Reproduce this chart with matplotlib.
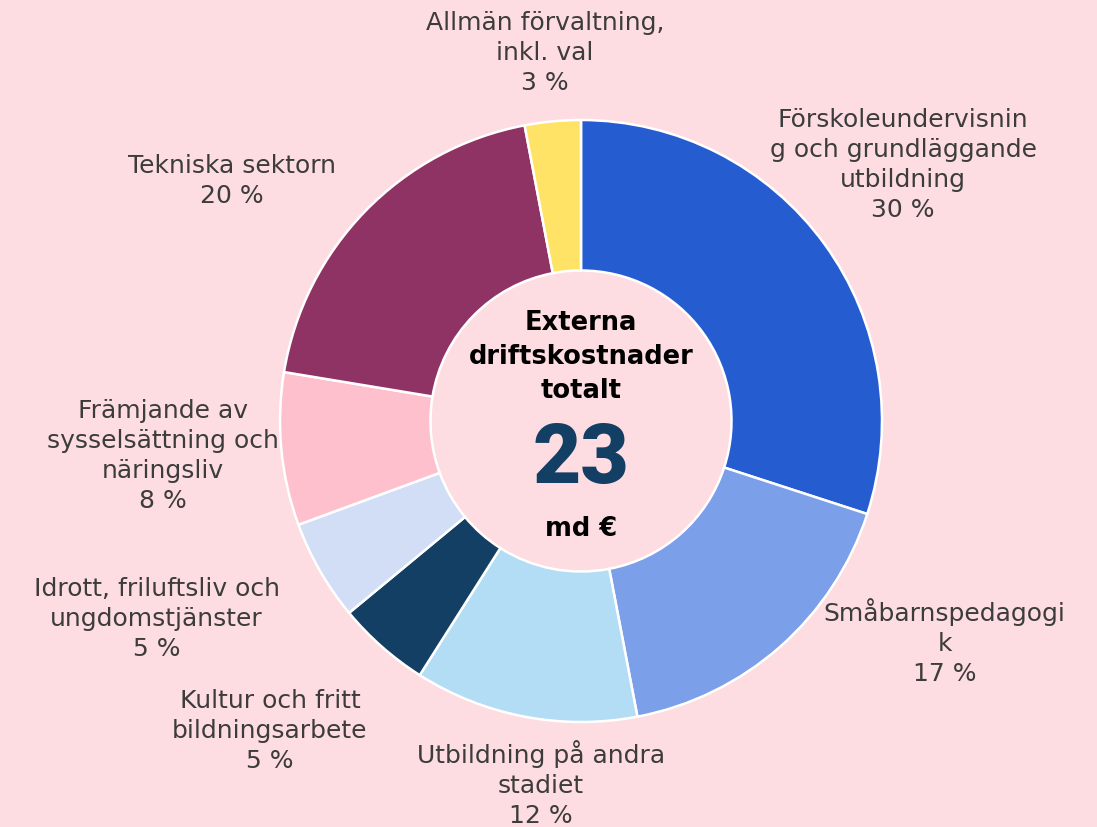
import numpy as np
import matplotlib.pyplot as plt

categories = [
    "Förskoleundervisnin\ng och grundläggande\nutbildning",
    "Småbarnspedagogi\nk",
    "Utbildning på andra\nstadiet",
    "Kultur och fritt\nbildningsarbete",
    "Idrott, friluftsliv och\nungdomstjänster",
    "Främjande av\nsysselsättning och\nnäringsliv",
    "Tekniska sektorn",
    "Allmän förvaltning,\ninkl. val",
]
values = [30.0, 17.0, 12.0, 5.0, 5.4, 8.2, 19.4, 3.0]
pct_labels = ["30 %", "17 %", "12 %", "5 %", "5 %", "8 %", "20 %", "3 %"]
total = "23"
unit = "md €"
center_title = "Externa\ndriftskostnader\ntotalt"

colors = ["#255dd1", "#7b9fe8", "#b2ddf5", "#123f63", "#d2ddf6",
          "#ffc0ce", "#8f3264", "#ffe366"]
bg = "#fddde1"

# label placement: distance from centre (in outer radii) and shift from wedge mid-angle
label_dist = [1.367, 1.414, 1.213, 1.459, 1.555, 1.394, 1.407, 1.229]
label_shift = [2.5, 17.3, 4.5, -3.7, -4.9, -0.6, 9.8, 0.2]

W, H = 1097, 827
cx, cy, R = 581, 421, 301

fig = plt.figure(figsize=(W / 100, H / 100), dpi=100, facecolor=bg)
ax = fig.add_axes([0, 0, 1, 1])
ax.set_facecolor(bg)
ax.axis("off")

wedges, _ = ax.pie(values, colors=colors, startangle=90, counterclock=False,
                   radius=1.0, wedgeprops=dict(width=0.5, edgecolor="white", linewidth=1.8))
ax.set_xlim(-cx / R, (W - cx) / R)
ax.set_ylim(-(H - cy) / R, cy / R)
ax.set_aspect("equal")

for w, cat, pct, d, s in zip(wedges, categories, pct_labels, label_dist, label_shift):
    theta = np.deg2rad((w.theta1 + w.theta2) / 2 + s)
    ax.text(d * np.cos(theta), d * np.sin(theta), cat + "\n" + pct,
            ha="center", va="center", fontsize=18, color="#3c3c3c",
            family="DejaVu Sans", linespacing=1.32, multialignment="center")

ax.text(0, 0.213, center_title, ha="center", va="center", fontsize=18.5,
        fontweight="bold", color="black", family="DejaVu Sans", linespacing=1.4)
ax.text(0, -0.13, total, ha="center", va="center", fontsize=60,
        fontweight="black", color="#123f63", family="Roboto")
ax.text(0, -0.359, unit, ha="center", va="center", fontsize=18.5,
        fontweight="bold", color="black", family="DejaVu Sans")

fig.savefig("out.png", dpi=100, facecolor=bg)
